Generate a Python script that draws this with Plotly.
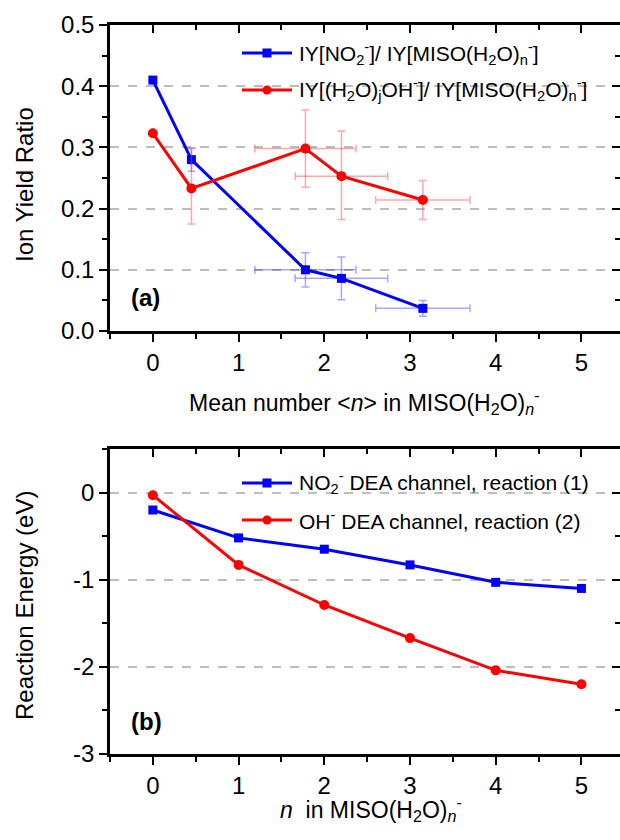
import plotly.graph_objects as go

# ---------------- data: panel (a) ----------------
mean_n = [0, 0.45, 1.78, 2.2, 3.15]
no2_ratio = [0.41, 0.28, 0.10, 0.086, 0.037]
no2_yerr = [0, 0.019, 0.028, 0.035, 0.013]
no2_xerr = [0, 0.02, 0.59, 0.54, 0.55]
oh_ratio = [0.323, 0.233, 0.298, 0.253, 0.214]
oh_yerr_plus = [0, 0.065, 0.063, 0.074, 0.032]
oh_yerr_minus = [0, 0.058, 0.063, 0.071, 0.032]
oh_xerr = [0, 0, 0.59, 0.54, 0.55]

# ---------------- data: panel (b) ----------------
n_water = [0, 1, 2, 3, 4, 5]
no2_energy = [-0.20, -0.52, -0.65, -0.83, -1.03, -1.10]
oh_energy = [-0.03, -0.83, -1.29, -1.67, -2.04, -2.20]

# tick labels
xticks = [0, 1, 2, 3, 4, 5]
yticks_a = [0.0, 0.1, 0.2, 0.3, 0.4, 0.5]
yticks_b = [-3, -2, -1, 0]
yticktext_b = ["-3", "-2", "-1", "0"]

BLUE = "#0000ff"
RED = "#ff0000"
FONT = "Liberation Sans, Arial, sans-serif"
W, H = 620, 840
ML, MR = 110, 0

def px(x):
    return (x - ML) / (W - ML - MR)

def py(y):
    return 1 - y / H

dom_a = [py(331), py(25)]
dom_b = [py(754), py(449)]
xr = [-0.5, 5.45]

fig = go.Figure()

# panel (a)
fig.add_trace(go.Scatter(
    x=mean_n, y=no2_ratio, mode="lines+markers", xaxis="x", yaxis="y",
    line=dict(color=BLUE, width=3), marker=dict(symbol="square", size=9, color=BLUE),
    error_y=dict(type="data", array=no2_yerr, color="rgba(60,60,255,0.45)", thickness=1.5, width=4),
    error_x=dict(type="data", array=no2_xerr, color="rgba(60,60,255,0.45)", thickness=1.5, width=4),
    showlegend=False))
fig.add_trace(go.Scatter(
    x=mean_n, y=oh_ratio, mode="lines+markers", xaxis="x", yaxis="y",
    line=dict(color=RED, width=3), marker=dict(symbol="circle", size=10, color=RED),
    error_y=dict(type="data", array=oh_yerr_plus, arrayminus=oh_yerr_minus,
                 color="rgba(255,60,60,0.45)", thickness=1.5, width=4),
    error_x=dict(type="data", array=oh_xerr, color="rgba(255,60,60,0.45)", thickness=1.5, width=4),
    showlegend=False))

# panel (b)
fig.add_trace(go.Scatter(
    x=n_water, y=no2_energy, mode="lines+markers", xaxis="x2", yaxis="y2",
    line=dict(color=BLUE, width=3), marker=dict(symbol="square", size=9, color=BLUE),
    showlegend=False))
fig.add_trace(go.Scatter(
    x=n_water, y=oh_energy, mode="lines+markers", xaxis="x2", yaxis="y2",
    line=dict(color=RED, width=3), marker=dict(symbol="circle", size=10, color=RED),
    showlegend=False))

# dummy traces for mirrored (top/right) axes
for xa, ya in [("x3", "y"), ("x", "y3"), ("x4", "y2"), ("x2", "y4")]:
    fig.add_trace(go.Scatter(x=[None], y=[None], xaxis=xa, yaxis=ya,
                             showlegend=False, hoverinfo="skip"))

axis_common = dict(showline=True, linecolor="black", linewidth=2.5, zeroline=False,
                   tickcolor="black", tickwidth=2, ticklen=8, automargin=False,
                   tickfont=dict(family=FONT, size=24, color="black"))

def xmain(anchor):
    return dict(axis_common, range=xr, domain=[0, 1], anchor=anchor, ticks="outside",
                tickvals=xticks, showgrid=False,
                minor=dict(ticks="outside", ticklen=5, dtick=0.5, tickwidth=2, tickcolor="black", showgrid=False))

def xmirror(over, anchor):
    return dict(axis_common, range=xr, domain=[0, 1], overlaying=over, anchor=anchor, side="top",
                ticks="inside", tickvals=xticks, showticklabels=False, showgrid=False,
                minor=dict(ticks="inside", ticklen=5, dtick=0.5, tickwidth=2, tickcolor="black", showgrid=False))

fig.update_layout(
    width=W, height=H, margin=dict(l=ML, r=MR, t=0, b=0),
    paper_bgcolor="white", plot_bgcolor="white",
    xaxis=xmain("y"),
    xaxis2=xmain("y2"),
    xaxis3=xmirror("x", "y"),
    xaxis4=xmirror("x2", "y2"),
    yaxis=dict(axis_common, range=[0, 0.5], domain=dom_a, anchor="x", ticks="outside",
               tickvals=yticks_a, tickformat=".1f",
               showgrid=True, gridcolor="#bdbdbd", griddash="dash", gridwidth=1.5,
               minor=dict(ticks="outside", ticklen=5, dtick=0.05, tickwidth=2, tickcolor="black", showgrid=False)),
    yaxis3=dict(axis_common, range=[0, 0.5], domain=dom_a, anchor="x", overlaying="y", side="right",
                ticks="inside", tickvals=yticks_a, showticklabels=False, showgrid=False,
                minor=dict(ticks="inside", ticklen=5, dtick=0.05, tickwidth=2, tickcolor="black", showgrid=False)),
    yaxis2=dict(axis_common, range=[-3, 0.5], domain=dom_b, anchor="x2", ticks="outside",
                tickvals=yticks_b, ticktext=yticktext_b,
                showgrid=True, gridcolor="#bdbdbd", griddash="dash", gridwidth=1.5,
                minor=dict(ticks="outside", ticklen=5, dtick=0.5, tickwidth=2, tickcolor="black", showgrid=False)),
    yaxis4=dict(axis_common, range=[-3, 0.5], domain=dom_b, anchor="x2", overlaying="y2", side="right",
                ticks="inside", tickvals=yticks_b, showticklabels=False, showgrid=False,
                minor=dict(ticks="inside", ticklen=5, dtick=0.5, tickwidth=2, tickcolor="black", showgrid=False)),
)

ann = []
def text(x, y, s, size, xanchor="center", yanchor="middle", angle=0, bold=False):
    ann.append(dict(x=px(x), y=py(y), xref="paper", yref="paper", text=(f"<b>{s}</b>" if bold else s),
                    showarrow=False, xanchor=xanchor, yanchor=yanchor, textangle=angle,
                    font=dict(family=FONT, size=size, color="black")))

# axis titles
text(364, 402, "Mean number &lt;<i>n</i>&gt; in MISO(H<sub>2</sub>O)<sub><i>n</i></sub><sup>-</sup>", 23)
text(371, 809, "<i>n</i>  in MISO(H<sub>2</sub>O)<sub><i>n</i></sub><sup>-</sup>", 23)
text(24, 185, "Ion Yield Ratio", 24, angle=-90)
text(24, 606, "Reaction Energy (eV)", 24, angle=-90)
# panel labels
text(129, 297, "(a)", 24, xanchor="left", bold=True)
text(129, 721, "(b)", 24, xanchor="left", bold=True)

# legends (drawn manually)
shapes = []
def legend_row(y, color, symbol, label):
    shapes.append(dict(type="line", xref="paper", yref="paper", x0=px(242), x1=px(292),
                       y0=py(y), y1=py(y), line=dict(color=color, width=3)))
    r = 4.5
    shapes.append(dict(type=("rect" if symbol == "square" else "circle"), xref="paper", yref="paper",
                       x0=px(267 - r), x1=px(267 + r), y0=py(y + r), y1=py(y - r),
                       fillcolor=color, line=dict(color=color, width=0)))
    text(297, y, label, 21, xanchor="left")

legend_row(53, BLUE, "square", "IY[NO<sub>2</sub><sup>-</sup>]/ IY[MISO(H<sub>2</sub>O)<sub>n</sub><sup>-</sup>]")
legend_row(90, RED, "circle", "IY[(H<sub>2</sub>O)<sub>j</sub>OH<sup>-</sup>]/ IY[MISO(H<sub>2</sub>O)<sub>n</sub><sup>-</sup>]")
legend_row(483, BLUE, "square", "NO<sub>2</sub><sup>-</sup> DEA channel, reaction (1)")
legend_row(520, RED, "circle", "OH<sup>-</sup> DEA channel, reaction (2)")

fig.update_layout(annotations=ann, shapes=shapes)

fig.write_html("out.html", config={"displayModeBar": False},
               post_script="document.body.style.margin='0px';document.body.style.overflow='hidden';")
